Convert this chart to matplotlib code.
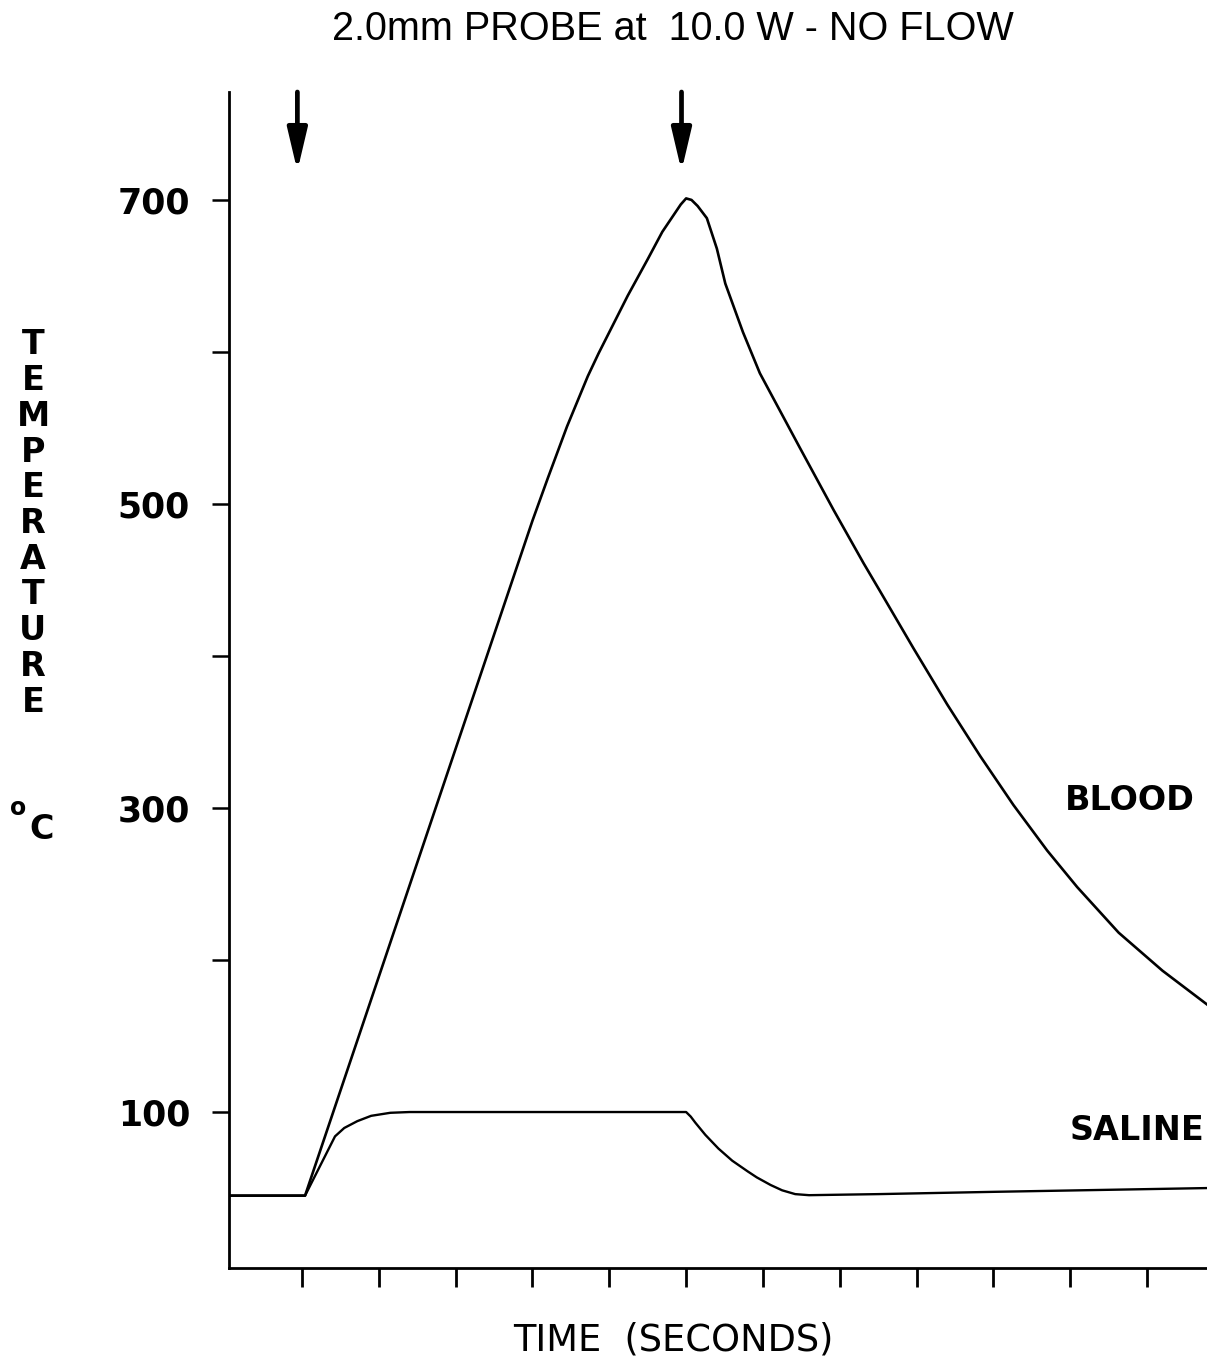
import matplotlib
matplotlib.use("Agg")
from matplotlib import pyplot as plt

# data (time in tick units, temperature in deg C)
blood_t = [0.0, 1.04, 1.5, 2.0, 2.5, 3.0, 3.5, 3.7, 4.0, 4.2, 4.45, 4.72,
           4.86, 5.0, 5.24, 5.5, 5.69, 5.85, 5.93, 6.0, 6.07, 6.15, 6.27,
           6.40, 6.51, 6.74, 6.96, 7.48, 7.92, 8.31, 8.52, 8.96, 9.40,
           9.83, 10.26, 10.70, 11.09, 11.63, 12.2, 12.8]
blood_temp = [45, 45, 114, 189, 264, 339, 414, 444, 489, 517, 551, 584,
              599, 613, 637, 661, 679, 691, 697, 701, 700, 696, 688,
              668, 645, 613, 586, 537, 496, 461, 443, 405, 368,
              334, 302, 272, 248, 218, 193, 170]

saline_t = [0.0, 1.04, 1.25, 1.43, 1.55, 1.72, 1.9, 2.15, 2.4, 6.0, 6.06,
            6.12, 6.25, 6.42, 6.6, 6.8, 6.92, 7.1, 7.25, 7.42, 7.6, 8.5,
            10.0, 12.8]
saline_temp = [45, 45, 66, 84, 89.5, 94, 97.5, 99.5, 100, 100, 97,
               93, 85, 76, 68, 61, 57, 52, 48.5, 46, 45.3, 46,
               47.5, 50]

arrow_times = [0.94, 5.94]
x_ticks = list(range(1, 13))
y_ticks = [100, 200, 300, 400, 500, 600, 700]
y_ticklabels = ["100", "", "300", "", "500", "", "700"]
ylabel_word = "TEMPERATURE"

f1 = plt.figure(figsize=(12.07, 13.6), dpi=100)
ax1 = f1.add_axes([229 / 1207, 1 - 1268 / 1360, 1 - 229 / 1207, (1268 - 92) / 1360])

ax1.plot(blood_t, blood_temp, color="black", lw=1.9, solid_joinstyle="round")
ax1.plot(saline_t, saline_temp, color="black", lw=1.7, solid_joinstyle="round")

ax1.set_xlim(0.05, 12.78)
ax1.set_ylim(-2.6, 771)

# only left and bottom axis lines
for side in ("top", "right"):
    ax1.spines[side].set_visible(False)
for side in ("left", "bottom"):
    ax1.spines[side].set_linewidth(2.0)

ax1.set_xticks(x_ticks)
ax1.set_xticklabels([])
ax1.tick_params(axis="x", direction="out", length=13.5, width=2.0)
ax1.set_yticks(y_ticks)
ax1.set_yticklabels(y_ticklabels, fontsize=25, fontweight="bold",
                    family="DejaVu Sans")
ax1.tick_params(axis="y", direction="out", length=12, width=1.8, pad=16)

# arrows marking power on / off
for t in arrow_times:
    ax1.annotate("", xy=(t, 719), xytext=(t, 771),
                 arrowprops=dict(arrowstyle="-|>,head_length=0.85,head_width=0.2",
                                 lw=3.4, color="black", mutation_scale=30,
                                 shrinkA=0, shrinkB=0))

ax1.text(1130 / 1207, 1 - 801 / 1360, "BLOOD", transform=f1.transFigure,
         ha="center", va="center", fontsize=24, fontweight="bold")
ax1.text(1137 / 1207, 1 - 1130 / 1360, "SALINE", transform=f1.transFigure,
         ha="center", va="center", fontsize=24, fontweight="bold")

f1.text(673 / 1207, 1 - 29 / 1360, "2.0mm PROBE at  10.0 W - NO FLOW",
        ha="center", va="center", fontsize=28.5, family="Liberation Sans")
f1.text(673 / 1207, 1 - 1340 / 1360, "TIME  (SECONDS)",
        ha="center", va="center", fontsize=26.5)

# stacked vertical label
for i, ch in enumerate(ylabel_word):
    f1.text(33 / 1207, 1 - (345 + i * 35.7) / 1360, ch, ha="center",
            va="center", fontsize=24, fontweight="bold")
f1.text(18 / 1207, 1 - 808 / 1360, "o", ha="center", va="center",
        fontsize=17, fontweight="bold")
f1.text(42 / 1207, 1 - 829 / 1360, "C", ha="center", va="center",
        fontsize=24, fontweight="bold")

f1.savefig("out.png", dpi=100)
